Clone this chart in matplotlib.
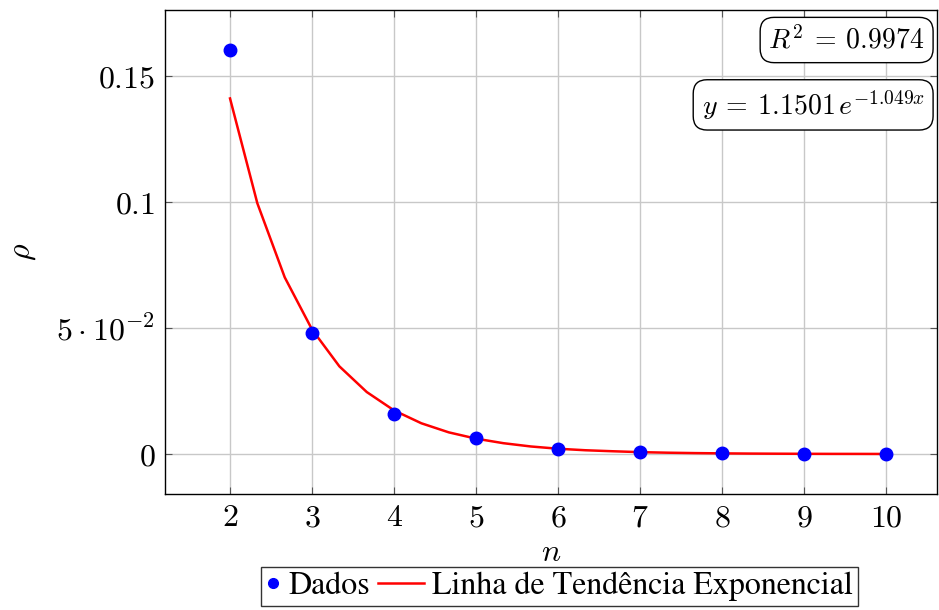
import matplotlib
matplotlib.use("Agg")
import matplotlib.pyplot as plt
from matplotlib.ticker import FixedLocator
from matplotlib.legend_handler import HandlerLine2D

plt.rcParams["mathtext.fontset"] = "cm"
plt.rcParams["font.family"] = ["STIXGeneral", "DejaVu Serif"]

# dados medidos
n_dados = [2, 3, 4, 5, 6, 7, 8, 9, 10]
rho_dados = [0.1603, 0.048, 0.0159, 0.0063, 0.0021, 0.0008, 0.0003, 0.0001, 0.00004]

# linha de tendencia (amostrada a cada 1/3)
n_tend = [2, 2.333, 2.667, 3, 3.333, 3.667, 4, 4.333, 4.667, 5, 5.333, 5.667,
          6, 6.333, 6.667, 7, 7.333, 7.667, 8, 8.333, 8.667, 9, 9.333, 9.667, 10]
rho_tend = [0.1411, 0.0995, 0.0701, 0.0494, 0.0348, 0.0246, 0.0173, 0.0122,
            0.0086, 0.0061, 0.0043, 0.0030, 0.0021, 0.0015, 0.0011, 0.00075,
            0.00053, 0.00037, 0.00026, 0.00018, 0.00013, 0.00009, 0.00006,
            0.00005, 0.00003]

xticks = [2, 3, 4, 5, 6, 7, 8, 9, 10]
yticks = [0, 0.05, 0.1, 0.15]
ylabels = [r"$0$", r"$5\cdot10^{-2}$", r"$0.1$", r"$0.15$"]


class LinhaLarga(HandlerLine2D):
    # a linha da legenda estende-se para a esquerda, como no pgfplots
    def create_artists(self, legend, orig_handle, xdescent, ydescent, width, height, fontsize, trans):
        extra = 1.0 * fontsize
        return super().create_artists(legend, orig_handle, xdescent + extra, ydescent,
                                      width + extra, height, fontsize, trans)


fig = plt.figure(figsize=(9.39, 6.10), dpi=100)
ax = fig.add_axes([0.1757, 0.190, 0.8223, 0.7936])

linha, = ax.plot(n_tend, rho_tend, color="red", lw=1.8, label="Linha de Tendência Exponencial", zorder=3)
pontos, = ax.plot(n_dados, rho_dados, "o", color="blue", ms=9, label="Dados", zorder=4)

ax.set_xlim(1.207, 10.62)
ax.set_ylim(-0.0159, 0.1762)
ax.xaxis.set_major_locator(FixedLocator(xticks))
ax.set_xticklabels([r"$%d$" % v for v in xticks])
ax.yaxis.set_major_locator(FixedLocator(yticks))
ax.set_yticklabels(ylabels)
ax.tick_params(direction="in", length=5, width=0.8, labelsize=23, top=True, right=True,
               color="#555555", pad=7)
ax.grid(True, color="#c8c8c8", lw=1)
ax.set_axisbelow(True)
for s in ax.spines.values():
    s.set_linewidth(1)

ax.set_xlabel(r"$n$", fontsize=23, labelpad=4)
ax.set_ylabel(r"$\rho$", fontsize=23, labelpad=13)

box = dict(boxstyle="round,pad=0.3,rounding_size=0.5", fc="white", ec="black", lw=1)
ax.text(0.984, 0.938, r"$R^2\:=\:0.9974$", transform=ax.transAxes, ha="right", va="center",
        fontsize=20, bbox=box)
ax.text(0.984, 0.804, r"$y\:=\:1.1501\,e^{-1.049x}$", transform=ax.transAxes, ha="right",
        va="center", fontsize=20, bbox=box)

leg = ax.legend([pontos, linha], ["Dados", "Linha de Tendência Exponencial"],
                handler_map={linha: LinhaLarga()},
                loc="upper center", bbox_to_anchor=(0.511, -0.15), ncol=2,
                fontsize=23, frameon=True, fancybox=False, edgecolor="black",
                handlelength=0.45, handletextpad=0.25, columnspacing=1.25,
                borderpad=0.15, borderaxespad=0)
leg.get_frame().set_linewidth(1)
leg.legend_handles[0].set_markersize(7)

fig.savefig("out.png", dpi=100)
